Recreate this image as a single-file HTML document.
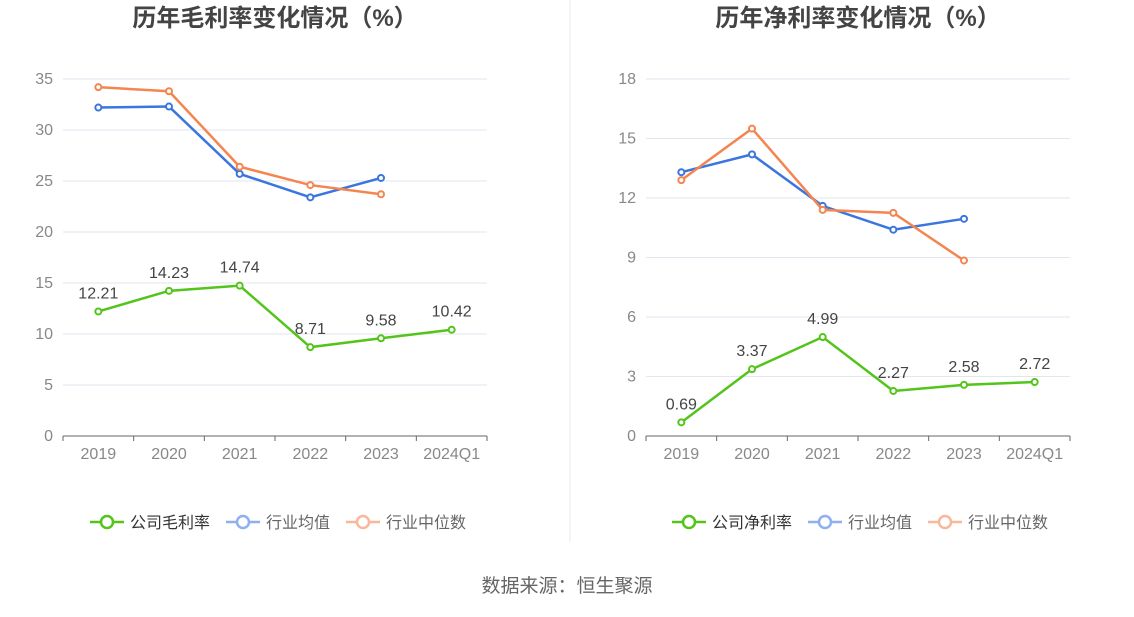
<!DOCTYPE html>
<html><head><meta charset="utf-8"><style>
body{margin:0;background:#fff;width:1134px;height:612px;overflow:hidden;font-family:"Liberation Sans","Noto Sans CJK SC",sans-serif}
svg text{font-family:"Liberation Sans","Noto Sans CJK SC",sans-serif}
</style></head><body>
<svg id="c" width="1134" height="612">
<line x1="570" y1="0" x2="570" y2="542" stroke="#e8e8e8"/>
<text x="567" y="592" text-anchor="middle" font-size="19" fill="#666">数据来源：恒生聚源</text>
</svg>
<script>
const categories=["2019","2020","2021","2022","2023","2024Q1"];
const grossCompany=[12.21,14.23,14.74,8.71,9.58,10.42];
const grossAvg=[32.2,32.3,25.7,23.4,25.3];
const grossMedian=[34.2,33.8,26.4,24.6,23.7];
const grossTicks=[0,5,10,15,20,25,30,35];
const netCompany=[0.69,3.37,4.99,2.27,2.58,2.72];
const netAvg=[13.3,14.2,11.6,10.4,10.95];
const netMedian=[12.9,15.5,11.4,11.25,8.85];
const netTicks=[0,3,6,9,12,15,18];
const svg=document.getElementById('c');
const NS='http://www.w3.org/2000/svg';
function mk(tag,attrs,parent){const e=document.createElementNS(NS,tag);for(const k in attrs)e.setAttribute(k,attrs[k]);(parent||svg).appendChild(e);return e;}
function panel(p,title,ticks,company,avg,median,compName){
  const g=mk('g',{});
  
  
  const max=ticks[ticks.length-1];
  const y=v=>436-v/max*357;
  const step=(p.x1-p.x0)/categories.length;
  const x=i=>p.x0+step*(i+0.5);
  const t=mk('text',{x:(p.x0+p.x1)/2,y:26,'text-anchor':'middle','font-size':24,'font-weight':'bold',fill:'#444'},g);
  t.textContent=title;
  
  
  ticks.forEach(v=>{
    if(v>0){const l=mk('line',{x1:p.x0,x2:p.x1,y1:y(v),y2:y(v),stroke:'#e3e6ef'},g);
    
    }
    const tx=mk('text',{x:p.x0-10,y:y(v)+5,'text-anchor':'end','font-size':16,fill:'#888'},g);
    tx.textContent=v;
    
    
  });
  const ax=mk('line',{x1:p.x0,x2:p.x1,y1:436,y2:436,stroke:'#666'},g);
  
  
  categories.forEach((c,i)=>{
    mk('line',{x1:p.x0+step*i,x2:p.x0+step*i,y1:436,y2:441,stroke:'#666'},g);
    const tx=mk('text',{x:x(i),y:459,'text-anchor':'middle','font-size':16,fill:'#888'},g);
    tx.textContent=c;
    
    
  });
  mk('line',{x1:p.x1,x2:p.x1,y1:436,y2:441,stroke:'#666'},g);
  function series(vals,color,name,labels){
    const pl=mk('polyline',{points:vals.map((v,i)=>x(i)+','+y(v)).join(' '),fill:'none',stroke:color,'stroke-width':2.5},g);
    
    
    vals.forEach((v,i)=>{
      const c=mk('circle',{cx:x(i),cy:y(v),r:3,fill:'#fff',stroke:color,'stroke-width':2},g);
      
      
      if(labels){const tx=mk('text',{x:x(i),y:y(v)-13,'text-anchor':'middle','font-size':16,fill:'#444'},g);
        tx.textContent=v.toFixed(2);
        
        }
    });
  }
  series(avg,'#3a75e0','industry-average',false);
  series(median,'#f5854f','industry-median',false);
  series(company,'#52c41a','company',true);
  const leg=[[compName,'#52c41a','#333'],['行业均值','#8fb0f0','#666'],['行业中位数','#f9b89a','#666']];
  let lx=p.legendX;
  leg.forEach(([n,col,tc],k)=>{
    const lg=mk('g',{},g);
    
    
    mk('line',{x1:lx,x2:lx+34,y1:522,y2:522,stroke:col,'stroke-width':2.5},lg);
    mk('circle',{cx:lx+17,cy:522,r:6,fill:'#fff',stroke:col,'stroke-width':2.5},lg);
    const tx=mk('text',{x:lx+40,y:528,'font-size':16,fill:tc},lg);
    tx.textContent=n;
    lx+=40+n.length*16+16;
  });
}
panel({id:'gross-margin',x0:63,x1:487,legendX:90},'历年毛利率变化情况（%）',grossTicks,grossCompany,grossAvg,grossMedian,'公司毛利率');
panel({id:'net-margin',x0:646,x1:1070,legendX:672},'历年净利率变化情况（%）',netTicks,netCompany,netAvg,netMedian,'公司净利率');
</script>
</body></html>
